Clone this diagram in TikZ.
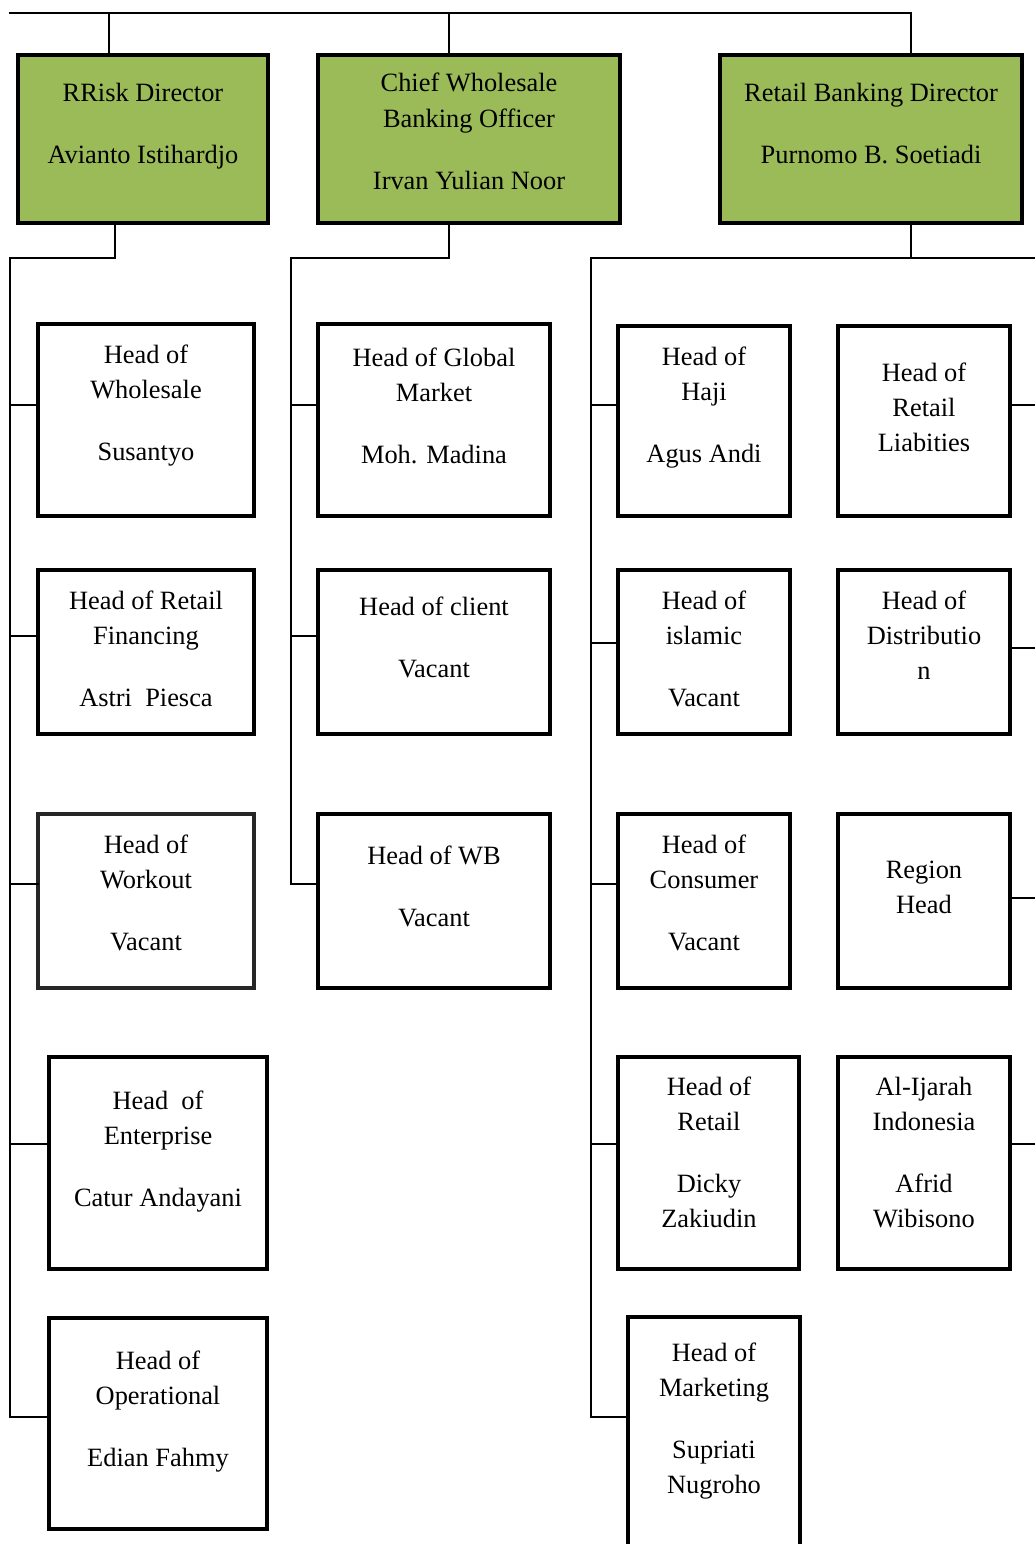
\documentclass[tikz,border=0pt]{standalone}
\usepackage{fontspec}
\setmainfont{Liberation Serif}[Ligatures=TeX]
\newfontfamily\orgfont{Liberation Serif}
\definecolor{dirgreen}{HTML}{9BBB59}
\begin{document}
\begin{tikzpicture}[x=1pt,y=-1pt,
  box/.style={draw=black, line width=4.5pt, rectangle, inner sep=0pt, outer sep=0pt},
  dirbox/.style={box, fill=dirgreen},
  thinbox/.style={box, draw=black!85, line width=3.5pt},
  txt/.style={align=center, inner sep=0pt, font=\orgfont\fontsize{26.4}{35}\selectfont},
  conn/.style={line width=1.5pt, line cap=rect}]
\useasboundingbox (0,0) rectangle (1035,1544);
\newcommand{\obox}[6]{\node[#2, minimum width={#5-#3}, minimum height={#6-#4}, anchor=north west] (#1) at (#3,#4) {};}
% directors
\obox{risk}{dirbox}{18}{55}{268}{223}
\obox{chief}{dirbox}{318}{55}{620}{223}
\obox{retail}{dirbox}{720}{55}{1022}{223}
% risk column
\obox{wholesale}{box}{38}{324}{254}{516}
\obox{retfin}{box}{38}{570}{254}{734}
\obox{workout}{thinbox}{38}{814}{254}{988}
\obox{enterprise}{box}{49}{1057}{267}{1269}
\obox{operational}{box}{49}{1318}{267}{1529}
% wholesale column
\obox{globalm}{box}{318}{324}{550}{516}
\obox{client}{box}{318}{570}{550}{734}
\obox{wb}{box}{318}{814}{550}{988}
% retail column 1
\obox{haji}{box}{618}{326}{790}{516}
\obox{islamic}{box}{618}{570}{790}{734}
\obox{consumer}{box}{618}{814}{790}{988}
\obox{retailh}{box}{618}{1057}{799}{1269}
\obox{marketing}{box}{628}{1317}{800}{1575}
% retail column 2
\obox{liab}{box}{838}{326}{1010}{516}
\obox{distrib}{box}{838}{570}{1010}{734}
\obox{region}{box}{838}{814}{1010}{988}
\obox{ijarah}{box}{838}{1057}{1010}{1269}
% texts (anchored at the baseline of the last line)
\node[txt, anchor=base] (riskT) at (143,163) {RRisk Director\\[27pt]Avianto Istihardjo};
\node[txt, anchor=base] (chiefT) at (469,189) {Chief Wholesale\\Banking Officer\\[27pt]Irvan Yulian Noor};
\node[txt, anchor=base] (retailT) at (871,163) {Retail Banking Director\\[27pt]Purnomo B. Soetiadi};
\node[txt, anchor=base] (wholesaleT) at (146,460) {Head of\\Wholesale\\[27pt]Susantyo};
\node[txt, anchor=base] (retfinT) at (146,706) {Head of Retail\\Financing\\[27pt]Astri~~Piesca};
\node[txt, anchor=base] (workoutT) at (146,950) {Head of\\Workout\\[27pt]Vacant};
\node[txt, anchor=base] (enterpriseT) at (158,1206) {Head~~of\\Enterprise\\[27pt]Catur Andayani};
\node[txt, anchor=base] (operationalT) at (158,1466) {Head of\\Operational\\[27pt]Edian Fahmy};
\node[txt, anchor=base] (globalmT) at (434,463) {Head of Global\\Market\\[27pt]Moh. Madina};
\node[txt, anchor=base] (clientT) at (434,677) {Head of client\\[27pt]Vacant};
\node[txt, anchor=base] (wbT) at (434,926) {Head of WB\\[27pt]Vacant};
\node[txt, anchor=base] (hajiT) at (704,462) {Head of\\Haji\\[27pt]Agus Andi};
\node[txt, anchor=base] (islamicT) at (704,706) {Head of\\islamic\\[27pt]Vacant};
\node[txt, anchor=base] (consumerT) at (704,950) {Head of\\Consumer\\[27pt]Vacant};
\node[txt, anchor=base] (retailhT) at (709,1227) {Head of\\Retail\\[27pt]Dicky\\Zakiudin};
\node[txt, anchor=base] (marketingT) at (714,1493) {Head of\\Marketing\\[27pt]Supriati\\Nugroho};
\node[txt, anchor=base] (liabT) at (924,451) {Head of\\Retail\\Liabities};
\node[txt, anchor=base] (distribT) at (924,679) {Head of\\Distributio\\n};
\node[txt, anchor=base] (regionT) at (924,913) {Region\\Head};
\node[txt, anchor=base] (ijarahT) at (924,1227) {Al-Ijarah\\Indonesia\\[27pt]Afrid\\Wibisono};
% top connector
\coordinate (topL) at (10,13);
\coordinate (t1) at (109,13);
\coordinate (t2) at (449,13);
\coordinate (t3) at (911,13);
\draw[conn] (topL) -- (t3);
\draw[conn] (t1) -- (t1 |- risk.north);
\draw[conn] (t2) -- (t2 |- chief.north);
\draw[conn] (t3) -- (t3 |- retail.north);
% trunks
\coordinate (b1) at (115,258);
\coordinate (b2) at (449,258);
\coordinate (b3) at (911,258);
\coordinate (L) at (10,258);
\coordinate (M) at (291,258);
\coordinate (R) at (591,258);
\coordinate (Redge) at (1035,258);
\draw[conn] (b1 |- risk.south) -- (b1) -- (L) -- (10,1417);
\draw[conn] (b2 |- chief.south) -- (b2) -- (M) -- (291,884);
\draw[conn] (b3 |- retail.south) -- (b3);
\draw[conn] (R) -- (Redge);
\draw[conn] (R) -- (591,1417);
% risk branches
\draw[conn] (L |- 0,405) -- (wholesale.west |- 0,405);
\draw[conn] (L |- 0,636) -- (retfin.west |- 0,636);
\draw[conn] (L |- 0,884) -- (workout.west |- 0,884);
\draw[conn] (L |- 0,1144) -- (enterprise.west |- 0,1144);
\draw[conn] (L |- 0,1417) -- (operational.west |- 0,1417);
% wholesale branches
\draw[conn] (M |- 0,405) -- (globalm.west |- 0,405);
\draw[conn] (M |- 0,636) -- (client.west |- 0,636);
\draw[conn] (M |- 0,884) -- (wb.west |- 0,884);
% retail branches
\draw[conn] (R |- 0,405) -- (haji.west |- 0,405);
\draw[conn] (R |- 0,643) -- (islamic.west |- 0,643);
\draw[conn] (R |- 0,884) -- (consumer.west |- 0,884);
\draw[conn] (R |- 0,1144) -- (retailh.west |- 0,1144);
\draw[conn] (R |- 0,1417) -- (marketing.west |- 0,1417);
% right-hand outgoing lines
\draw[conn] (liab.east |- 0,405) -- (Redge |- 0,405);
\draw[conn] (distrib.east |- 0,648) -- (Redge |- 0,648);
\draw[conn] (region.east |- 0,898) -- (Redge |- 0,898);
\draw[conn] (ijarah.east |- 0,1144) -- (Redge |- 0,1144);
\end{tikzpicture}
\end{document}
